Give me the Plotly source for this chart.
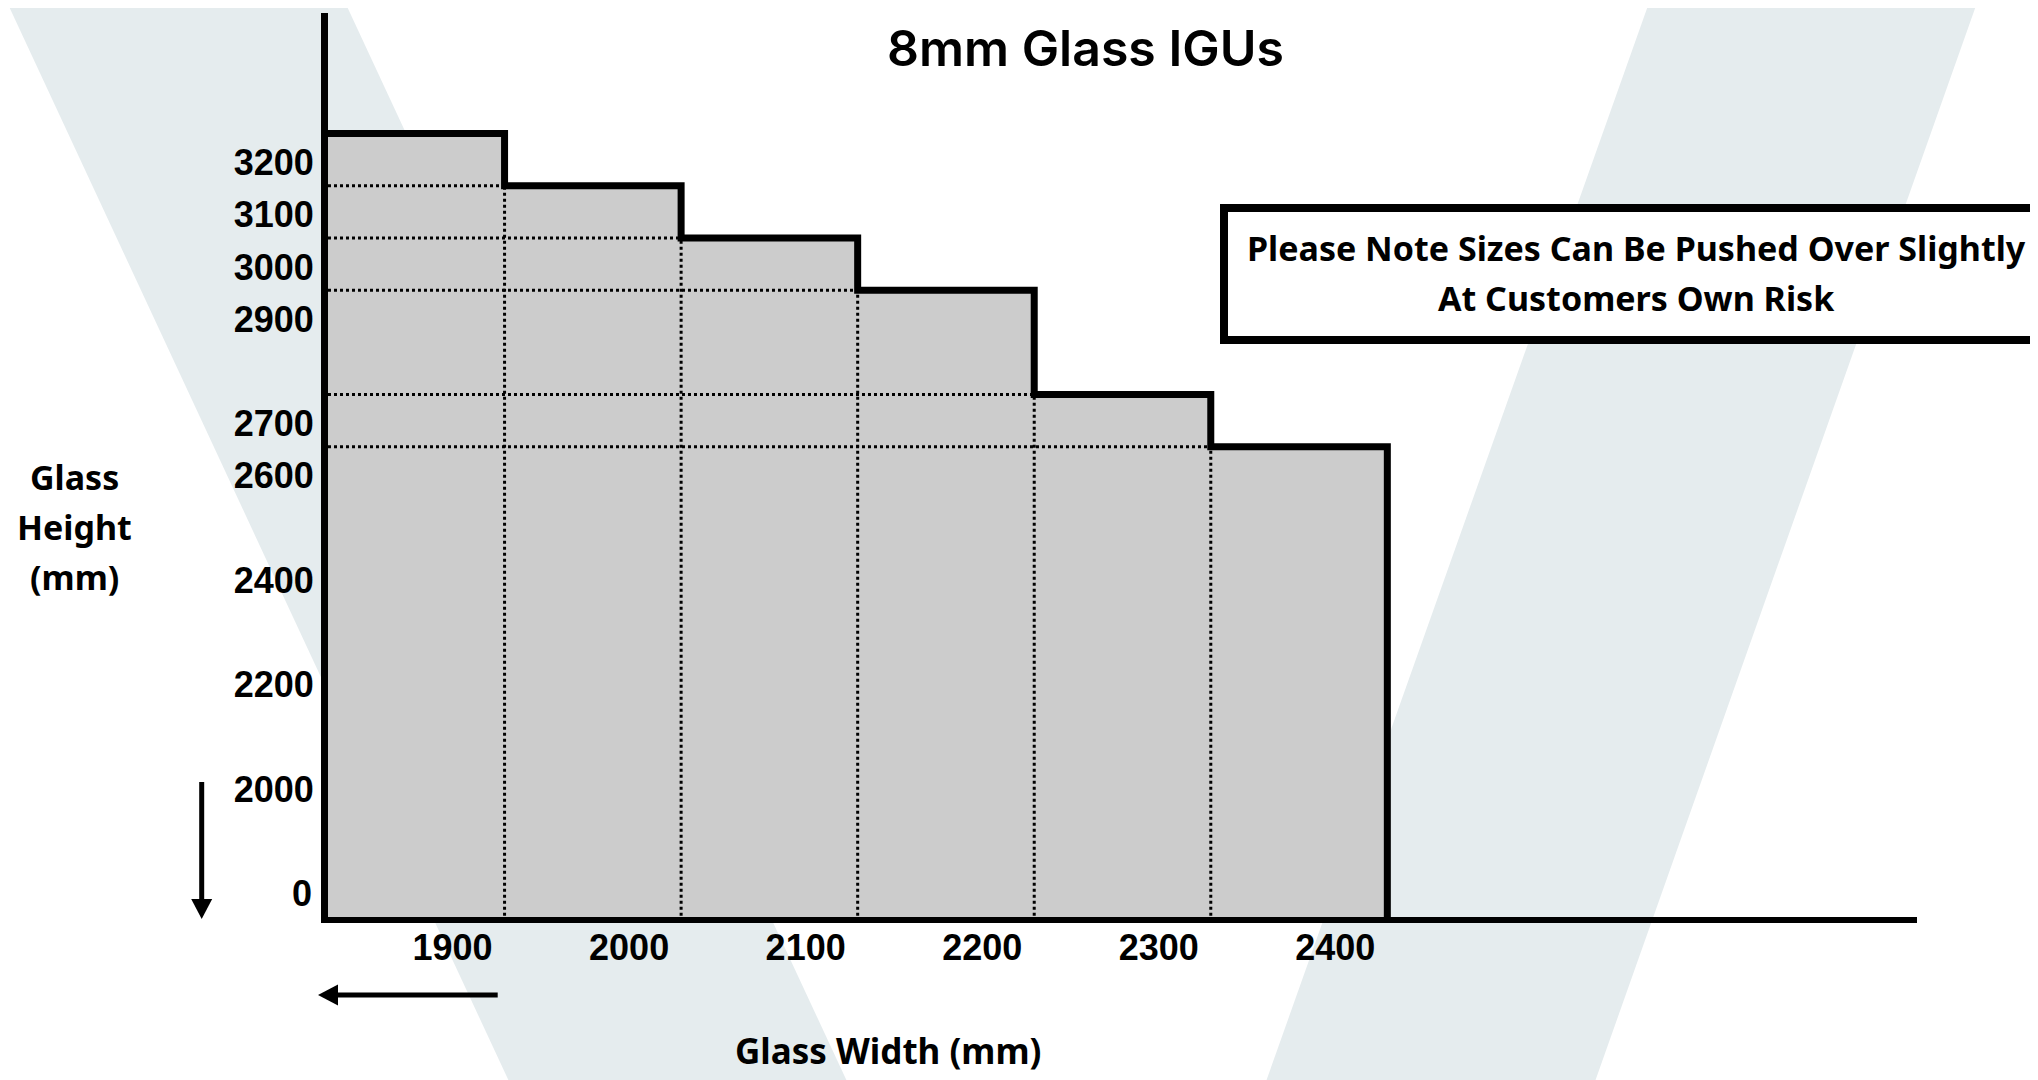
import math
import plotly.graph_objects as go

# ---- data ----
widths = [1900, 2000, 2100, 2200, 2300, 2400]          # glass width (mm), right edge of each column
heights = [3200, 3100, 3000, 2900, 2700, 2600]         # max glass height (mm) for each width
width_start = 1800                                     # left edge of first column (axis origin)
y_ticks = [3200, 3100, 3000, 2900, 2700, 2600, 2400, 2200, 2000]
origin_label = "0"
title_text = "8mm Glass IGUs"
note_lines = ["Please Note Sizes Can Be Pushed Over Slightly", "At Customers Own Risk"]
y_title_lines = ["Glass", "Height", "(mm)"]
x_title = "Glass Width (mm)"

# ---- layout geometry (window pixels; page body adds an 8px margin) ----
OFF = 8
W, H = 2038, 1080
PLOT_L, PLOT_R, PLOT_T, PLOT_B = 328, 1917, 13, 917   # window pixel edges of plot area
L = PLOT_L - OFF
T = PLOT_T - OFF
R = W - (PLOT_R - OFF)
B = H - (PLOT_B - OFF)
PW, PH = W - L - R, H - T - B
X_RANGE = [1800, 2700]
Y_RANGE = [1699, 3431]


def px(x):
    return (x - OFF - L) / PW


def py(y):
    return (H - B - (y - OFF)) / PH


fig = go.Figure()

# dotted guide lines (from data)
gx, gy = [], []
for i in range(1, len(widths)):
    gx += [width_start, widths[i - 1], None]
    gy += [heights[i], heights[i], None]
    gx += [widths[i - 1], widths[i - 1], None]
    gy += [0, heights[i], None]

# step outline (filled)
sx = [width_start] + widths[:-1] + [widths[-1], widths[-1]]
sy = heights + [heights[-1], 0]

fig.add_trace(go.Scatter(x=sx, y=sy, mode="lines", line=dict(shape="hv", width=0, color="#cccccc"),
                         fill="tozeroy", fillcolor="#cccccc", hoverinfo="skip"))
fig.add_trace(go.Scatter(x=gx, y=gy, mode="lines", line=dict(color="black", width=3, dash="dot"),
                         hoverinfo="skip"))
fig.add_trace(go.Scatter(x=sx, y=sy, mode="lines", line=dict(shape="hv", width=7, color="black"),
                         hoverinfo="skip"))

stripe = "#e5ecee"
shapes = []
# background watermark stripes
for pts in ([(6, 0), (344, 0), (851, 1090), (513, 1090)],
            [(1650, 0), (1978, 0), (1592, 1090), (1263, 1090)]):
    path = "M " + " L ".join(f"{px(a):.5f},{py(b):.5f}" for a, b in pts) + " Z"
    shapes.append(dict(type="path", xref="paper", yref="paper", path=path,
                       fillcolor=stripe, line=dict(width=0), layer="below"))

# note box
shapes.append(dict(type="rect", xref="paper", yref="paper",
                   x0=px(1224), x1=px(2080), y0=py(208), y1=py(340),
                   line=dict(color="black", width=8), fillcolor="white", layer="above"))


def arrow(x0, y0, x1, y1, hl=20, hw=21):
    # decorative arrow: shaft from (x0,y0) to tip (x1,y1), window pixels
    dx, dy = x1 - x0, y1 - y0
    d = math.hypot(dx, dy)
    ux, uy = dx / d, dy / d
    bx, by = x1 - ux * hl, y1 - uy * hl
    nx, ny = -uy, ux
    shapes.append(dict(type="line", xref="paper", yref="paper",
                       x0=px(x0), y0=py(y0), x1=px(bx + ux * 2), y1=py(by + uy * 2),
                       line=dict(color="black", width=5)))
    p = [(x1, y1), (bx + nx * hw / 2, by + ny * hw / 2), (bx - nx * hw / 2, by - ny * hw / 2)]
    path = "M " + " L ".join(f"{px(a):.5f},{py(b):.5f}" for a, b in p) + " Z"
    shapes.append(dict(type="path", xref="paper", yref="paper", path=path,
                       fillcolor="black", line=dict(width=0)))


arrow(201.7, 782, 201.7, 919)
arrow(497.7, 995, 318, 995)

annotations = []
annotations.append(dict(text=title_text, xref="paper", yref="paper", x=px(1085), y=py(48),
                        showarrow=False, xanchor="center", yanchor="middle",
                        font=dict(family="Inter", size=50, color="black", weight=600)))
for i, t in enumerate(note_lines):
    annotations.append(dict(text=t, xref="paper", yref="paper", x=px(1636), y=py(247.5 + 50.5 * i),
                            showarrow=False, xanchor="center", yanchor="middle",
                            font=dict(family="Noto Sans", size=34, color="black", weight="bold")))
for i, t in enumerate(y_title_lines):
    annotations.append(dict(text=t, xref="paper", yref="paper", x=px(74), y=py(477 + 50 * i),
                            showarrow=False, xanchor="center", yanchor="middle",
                            font=dict(family="Noto Sans", size=34, color="black", weight="bold")))
annotations.append(dict(text=x_title, xref="paper", yref="paper", x=px(888), y=py(1050),
                        showarrow=False, xanchor="center", yanchor="middle",
                        font=dict(family="Noto Sans", size=35, color="black", weight="bold")))
annotations.append(dict(text=origin_label, xref="paper", yref="paper", x=0, y=0,
                        showarrow=False, xanchor="right", yanchor="middle", xshift=-14, yshift=24,
                        font=dict(family="Liberation Sans", size=36, color="black", weight="bold")))

tickfont = dict(family="Liberation Sans", size=36, color="black", weight="bold")
fig.update_layout(
    width=W, height=H, autosize=False,
    margin=dict(l=L, r=R, t=T, b=B, pad=0),
    paper_bgcolor="white", plot_bgcolor="rgba(0,0,0,0)",
    showlegend=False,
    shapes=shapes, annotations=annotations,
    xaxis=dict(range=X_RANGE, showline=True, linewidth=6, linecolor="black",
               showgrid=False, zeroline=False, ticks="",
               tickvals=widths, ticktext=[str(w) for w in widths],
               tickfont=tickfont, ticklabelshift=-52, ticklabelstandoff=-6),
    yaxis=dict(range=Y_RANGE, showline=True, linewidth=7, linecolor="black",
               showgrid=False, zeroline=False, ticks="",
               tickvals=y_ticks, ticktext=[str(v) for v in y_ticks],
               tickfont=tickfont, ticklabelshift=29),
)

fig.write_html("out.html")
